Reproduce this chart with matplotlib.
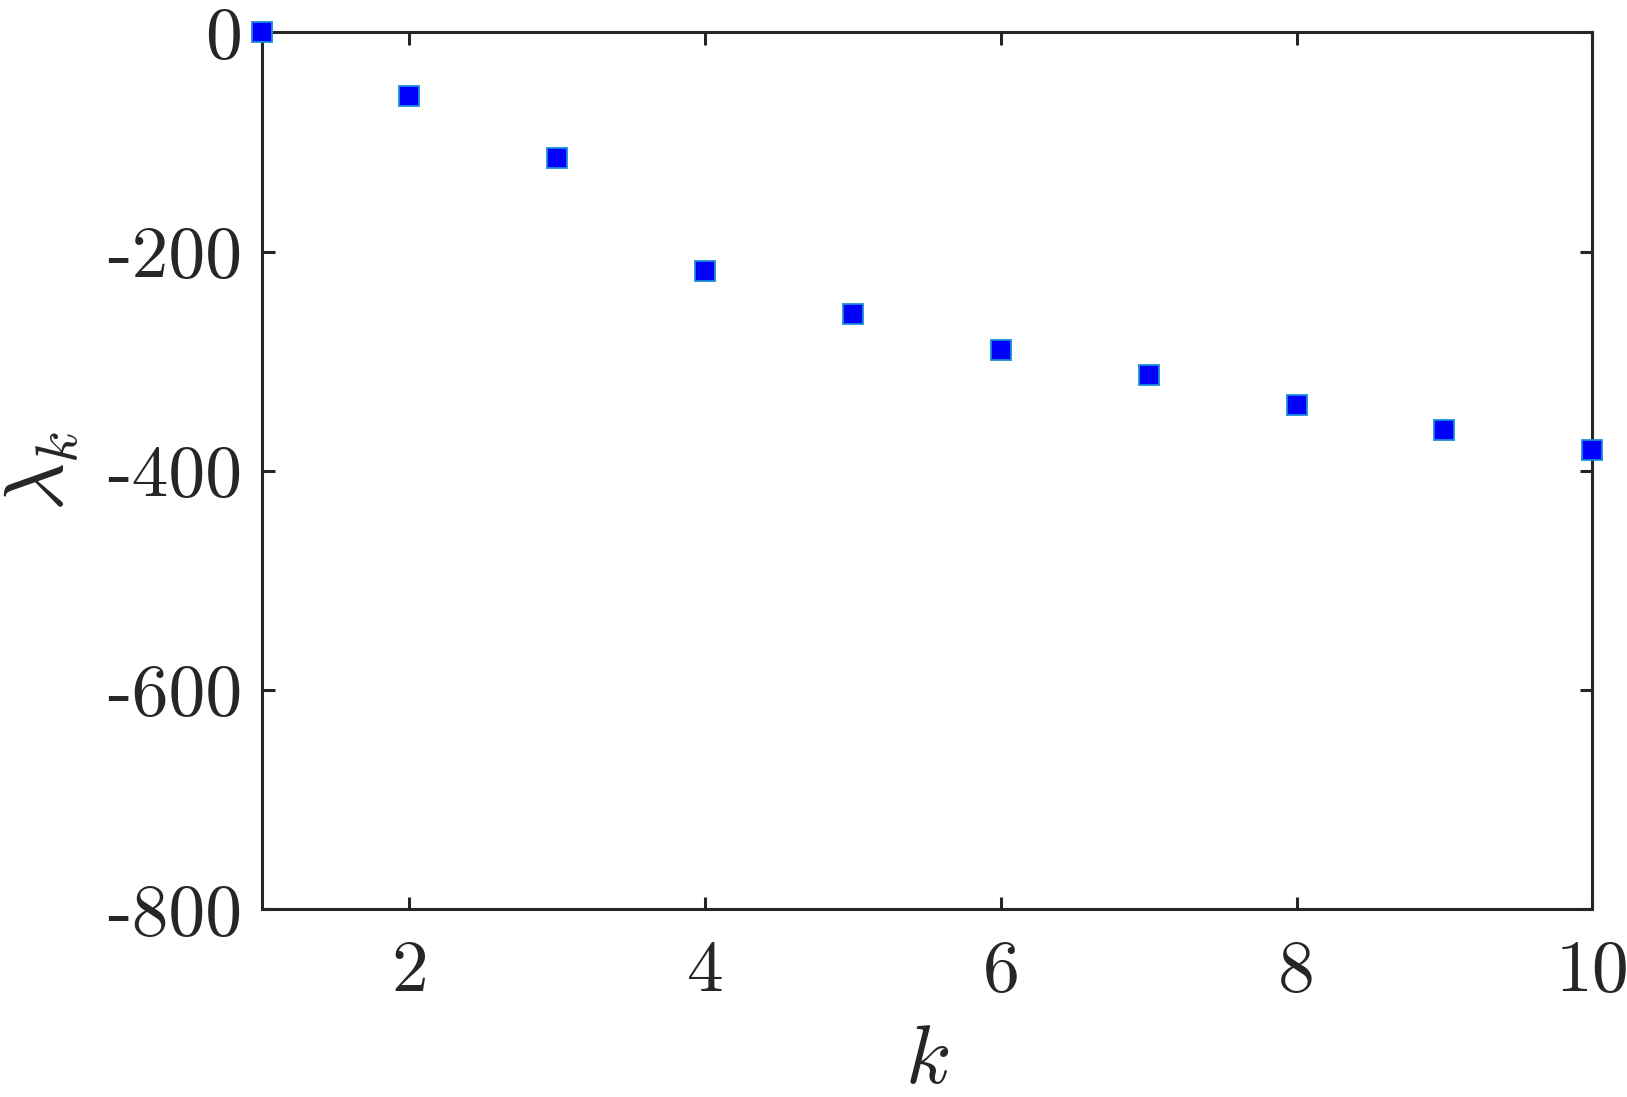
import matplotlib
matplotlib.use('Agg')
import matplotlib.pyplot as plt
from matplotlib.ticker import FixedLocator, FuncFormatter

k = [1, 2, 3, 4, 5, 6, 7, 8, 9, 10]
lam = [0.0, -58.6, -114.4, -217.5, -257.2, -289.4, -313.0, -340.4, -363.1, -381.1]
x_ticks = [2, 4, 6, 8, 10]
y_ticks = [0, -200, -400, -600, -800]

plt.rcParams['font.family'] = 'serif'
plt.rcParams['font.serif'] = ['cmr10']
plt.rcParams['mathtext.fontset'] = 'cm'
plt.rcParams['axes.unicode_minus'] = False
plt.rcParams['axes.formatter.use_mathtext'] = False

dark = '#262626'

fig = plt.figure(figsize=(16.27, 10.97), dpi=100)
ax = fig.add_axes([0.1608, 0.1711, 0.9787 - 0.1608, 0.9706 - 0.1711])

ax.plot(k, lam, linestyle='none', marker='s', markersize=14.5,
        markerfacecolor=(0, 0, 1), markeredgecolor='#1a8cd8',
        markeredgewidth=1.3, clip_on=False, zorder=5)

ax.set_xlim(1, 10)
ax.set_ylim(-800, 0)
ax.xaxis.set_major_locator(FixedLocator(x_ticks))
ax.yaxis.set_major_locator(FixedLocator(y_ticks))
ax.xaxis.set_major_formatter(FuncFormatter(lambda v, p: f'{int(v)}'))
ax.yaxis.set_major_formatter(FuncFormatter(lambda v, p: f'{int(v)}'))

for s in ax.spines.values():
    s.set_linewidth(2.2)
    s.set_color(dark)
ax.tick_params(direction='in', length=9, width=2.2, colors=dark,
               labelsize=53, top=True, right=True, pad=14)
ax.tick_params(axis='x', pad=22)

ax.set_xlabel(r'$k$', fontsize=60, color=dark, labelpad=15)
ax.set_ylabel(r'$\lambda_k$', fontsize=60, color=dark, labelpad=19)

fig.savefig('out.png', dpi=100)
